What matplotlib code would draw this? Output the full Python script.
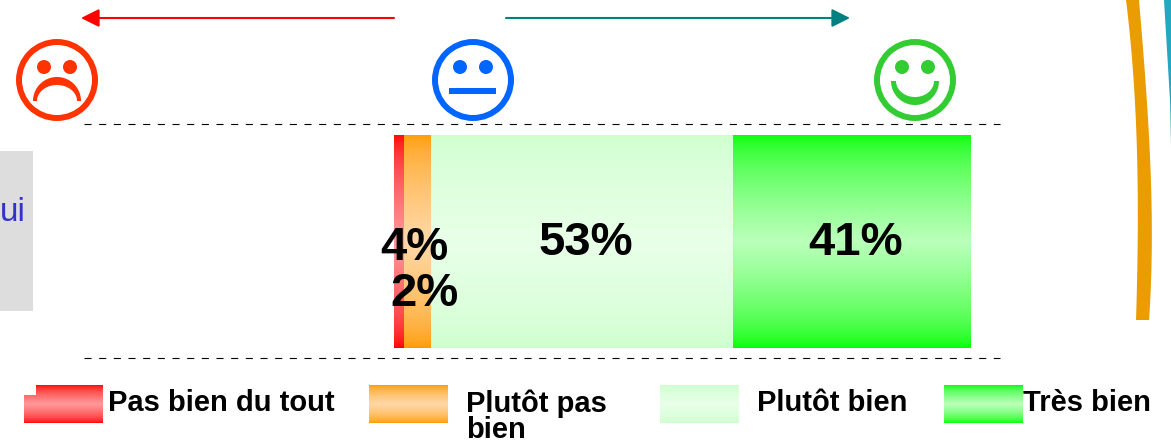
import numpy as np
import matplotlib
matplotlib.use('Agg')
import matplotlib.pyplot as plt
from matplotlib.colors import to_rgb
from matplotlib.patches import Circle, Polygon, Rectangle

plt.rcParams['font.family'] = ['Liberation Sans', 'DejaVu Sans']

# Data
categories = ['Pas bien du tout', 'Plutôt pas\nbien', 'Plutôt bien', 'Très bien']
values = [1.7, 4.7, 52.4, 41.2]
value_labels = ['2%', '4%', '53%', '41%']

# Style
edge_colors = ['#ff0000', '#ff9900', '#ccffcc', '#00ff00']
mid_colors = ['#ff9999', '#ffd8a8', '#e8ffe8', '#bbffbb']
label_xy = [(425, 294), (414, 248), (586, 243), (856, 243)]
swatch_x = [24, 369, 660, 944]
legend_text_x = [108, 466, 757, 1023]

W, H = 1171, 444
fig = plt.figure(figsize=(W / 100, H / 100), dpi=100)

# Overlay in pixel coordinates for the decorations
ax = fig.add_axes([0, 0, 1, 1], zorder=1)
ax.set_xlim(0, W)
ax.set_ylim(H, 0)
ax.axis('off')
ax.patch.set_alpha(0)

# Bar axes sits on the pixels of the bar
bar_left, bar_right, bar_top, bar_bottom = 394, 970, 135, 348
bar_ax = fig.add_axes([bar_left / W, 1 - bar_bottom / H, (bar_right - bar_left) / W, (bar_bottom - bar_top) / H], zorder=0)


def gradient(color_a, color_b):
    # steep near the edges, flat around the middle
    a, b = np.array(to_rgb(color_a)), np.array(to_rgb(color_b))
    t = 1 - np.abs(np.linspace(-1, 1, 256))
    t = t ** 0.6
    return (a[None, :] + (b - a)[None, :] * t[:, None]).reshape(256, 1, 3)


left = 0
for val, c_edge, c_mid in zip(values, edge_colors, mid_colors):
    bars = bar_ax.barh(0, val, left=left, height=1, color=c_edge, linewidth=0)
    im = bar_ax.imshow(gradient(c_edge, c_mid), extent=(left, left + val, -0.5, 0.5), aspect='auto', interpolation='bilinear', zorder=2)
    im.set_clip_path(bars[0])
    left += val
bar_ax.set_xlim(0, 100)
bar_ax.set_ylim(-0.5, 0.5)
bar_ax.axis('off')

for txt, (x, y) in zip(value_labels, label_xy):
    ax.text(x, y, txt, fontsize=34, fontweight='bold', color='black', ha='center', va='center')

# Dashed guides
for y in [124.5, 358]:
    ax.plot([84, 1000], [y, y], color='black', lw=0.8, linestyle=(0, (6.35, 6.85)))

# Arrows
ax.annotate('', xy=(81, 18), xytext=(394, 18), arrowprops=dict(arrowstyle='-|>,head_length=1.1,head_width=0.55', color='#ff0000', lw=1.5, shrinkA=0, shrinkB=0))
ax.annotate('', xy=(850, 18), xytext=(506, 18), arrowprops=dict(arrowstyle='-|>,head_length=1.1,head_width=0.55', color='#008080', lw=1.5, shrinkA=0, shrinkB=0))


def face(cx, cy, color):
    ax.add_patch(Circle((cx, cy), 38, fill=False, edgecolor=color, lw=4.3))
    ax.add_patch(Circle((cx - 13, cy - 13), 7, color=color, lw=0))
    ax.add_patch(Circle((cx + 13, cy - 13), 7, color=color, lw=0))


def crescent(cx, y0, a_out, b_out, a_in, b_in, color):
    t = np.linspace(0, np.pi, 60)
    outer = np.column_stack([cx - a_out * np.cos(t), y0 + b_out * np.sin(t)])
    inner = np.column_stack([cx - a_in * np.cos(t[::-1]), y0 + b_in * np.sin(t[::-1])])
    ax.add_patch(Polygon(np.vstack([outer, inner]), closed=True, color=color, lw=0))


face(57, 80, '#ff3300')
crescent(57, 101, 24, -24, 20, -16, '#ff3300')
face(473, 80, '#0066ff')
ax.add_patch(Rectangle((449, 88), 47, 6, color='#0066ff', lw=0))
face(915, 80, '#33cc33')
crescent(915, 81, 24, 24, 19, 16, '#33cc33')

# Grey box cut by the left edge
ax.add_patch(Rectangle((0, 151), 33, 160, color='#dddddd', lw=0))
ax.text(0, 212, 'ui', fontsize=24, color='#3333cc', ha='left', va='center')

# Swoosh at the right edge, smoothed outline
sw_y = [0, 100, 165, 220, 320]
sw_left = [1126, 1135, 1137, 1138, 1136]
sw_right = [1139, 1147, 1150, 1152, 1149]
yy = np.linspace(0, 320, 80)
xl = np.polyval(np.polyfit(sw_y, sw_left, 3), yy)
xr = np.polyval(np.polyfit(sw_y, sw_right, 3), yy)
ax.add_patch(Polygon(np.vstack([np.column_stack([xl, yy]), np.column_stack([xr, yy])[::-1]]), closed=True, color='#eb9c00', lw=0))
ax.add_patch(Polygon([(1164, 0), (1167, 50), (1170, 100), (1171, 145), (1172, 145), (1172, 0)], closed=True, color='#22a8c0', lw=0))

# Legend
for i, name in enumerate(categories):
    x = swatch_x[i]
    ax.imshow(gradient(edge_colors[i], mid_colors[i]), extent=(x, x + 79, 423, 385), aspect='auto', interpolation='bilinear', zorder=2)
    ax.text(legend_text_x[i], 389, name, fontsize=21, fontweight='bold', color='black', ha='left', va='top', linespacing=0.92, zorder=3)
ax.add_patch(Rectangle((swatch_x[0] - 1, 384), 13, 11, color='white', lw=0, zorder=2.5))

ax.set_xlim(0, W)
ax.set_ylim(H, 0)

fig.savefig('out.png', dpi=100)
